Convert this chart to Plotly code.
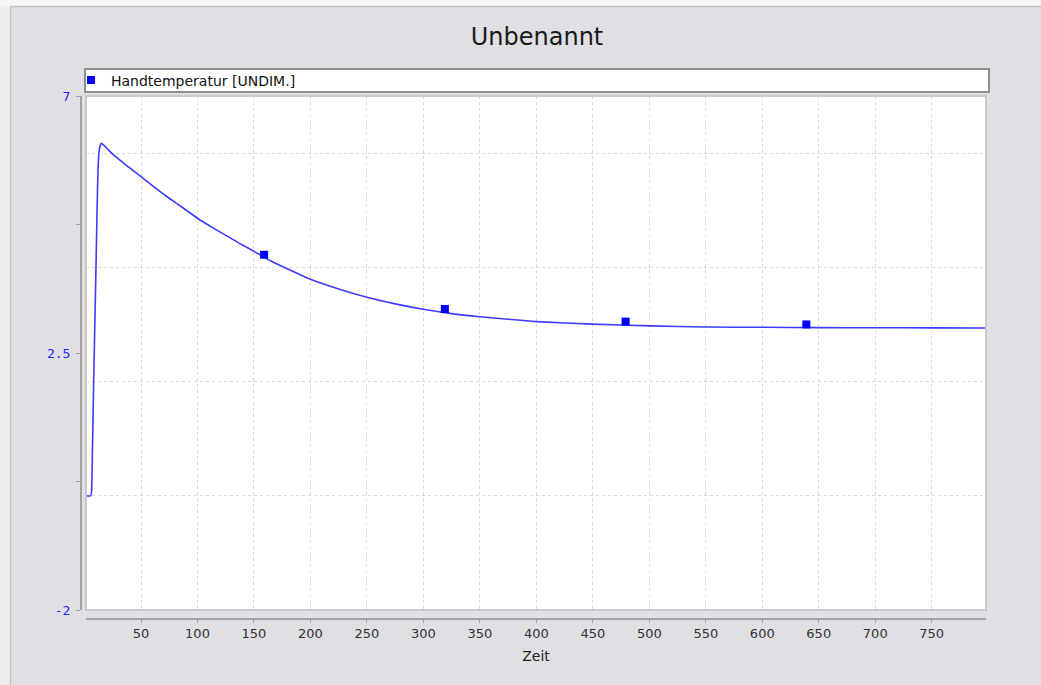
import plotly.graph_objects as go

# ---- data ----
time_curve = [1, 5.5, 6.5, 7, 8, 9, 10, 11, 12, 13, 14, 15, 17, 20, 24, 30, 40, 50, 62, 75, 88,
              100, 113, 126, 138, 150, 165, 180, 200, 225, 250, 275, 300, 325, 350, 375,
              400, 450, 500, 550, 600, 650, 700, 750, 798]
temp_curve = [0, 0, 0.25, 0.8, 1.9, 2.9, 3.85, 4.9, 5.75, 6.05, 6.14, 6.17, 6.14, 6.08, 6.0, 5.9,
              5.74, 5.59, 5.4, 5.21, 5.03, 4.86, 4.7, 4.55, 4.41, 4.28, 4.11, 3.97, 3.79,
              3.62, 3.475, 3.36, 3.265, 3.19, 3.135, 3.09, 3.05, 3.005, 2.975, 2.955, 2.95,
              2.945, 2.942, 2.94, 2.938]
time_meas = [159, 319, 479, 639]
temp_meas = [4.22, 3.27, 3.05, 3.0]

x_ticks = [50, 100, 150, 200, 250, 300, 350, 400, 450, 500, 550, 600, 650, 700, 750]
y_ticks = [-2, 0.25, 2.5, 4.75, 7]
y_ticktext = ["-2", "", "2.5", "", "7"]

W, H = 1041, 685
def px_x(p):
    return p / W
def px_y(p):
    return 1 - p / H

fig = go.Figure()
fig.add_trace(go.Scatter(x=time_curve, y=temp_curve, mode="lines",
                         line=dict(color="#3c3cff", width=1.6, shape="spline", smoothing=0.6),
                         showlegend=False, hoverinfo="skip"))
fig.add_trace(go.Scatter(x=time_meas, y=temp_meas, mode="markers",
                         marker=dict(symbol="square", size=8, color="#0000ff"),
                         name="Handtemperatur [UNDIM.]"))

grid_col = "#dadada"
axis_col = "#a2a2a2"

fig.update_layout(
    width=W, height=H,
    margin=dict(l=0, r=0, t=0, b=0),
    paper_bgcolor="#dfdfe4",
    plot_bgcolor="white",
    font=dict(family="DejaVu Sans", color="#222"),
    title=dict(text="Unbenannt", x=px_x(537), y=px_y(37), xanchor="center", yanchor="middle",
               xref="paper", yref="paper",
               font=dict(family="DejaVu Sans", size=24, color="#1a1a1a")),
    showlegend=True,
    legend=dict(x=px_x(71), y=px_y(80.5), xanchor="left", yanchor="middle",
                bgcolor="rgba(0,0,0,0)", borderwidth=0,
                font=dict(family="DejaVu Sans", size=14, color="#111")),
    xaxis=dict(domain=[px_x(86), px_x(986)], range=[1.3, 798.05], anchor="free",
               position=px_y(618.5), tickmode="array", tickvals=x_ticks,
               ticks="outside", ticklen=3, tickcolor=axis_col, tickwidth=1,
               showline=True, linecolor=axis_col, linewidth=2, zeroline=False,
               showgrid=True, gridcolor=grid_col, gridwidth=1, griddash="3px,3px",
               tickfont=dict(family="DejaVu Sans", size=13, color="#333"),
               title=dict(text="Zeit", standoff=10,
                          font=dict(family="DejaVu Sans", size=14, color="#222")),
               automargin=False),
    yaxis=dict(domain=[px_y(610), px_y(96)], range=[-2, 7], anchor="free",
               position=px_x(81), tickmode="array", tickvals=y_ticks, ticktext=y_ticktext,
               ticks="outside", ticklen=4, tickcolor=axis_col, tickwidth=1,
               showline=True, linecolor=axis_col, linewidth=2, zeroline=False,
               showgrid=False, ticklabelstandoff=3,
               minor=dict(tick0=0, dtick=2, showgrid=True, gridcolor=grid_col,
                          gridwidth=1, griddash="3px,3px", ticks=""),
               tickfont=dict(family="DejaVu Sans Mono", size=13, color="#2424ff"),
               automargin=False),
    shapes=[
        # light outer strips of the window frame
        dict(type="rect", xref="paper", yref="paper", x0=0, x1=px_x(10), y0=0, y1=1,
             fillcolor="#eeeef0", line=dict(width=0), layer="below"),
        dict(type="rect", xref="paper", yref="paper", x0=0, x1=1, y0=px_y(6), y1=1,
             fillcolor="#f6f6f7", line=dict(width=0), layer="below"),
        dict(type="line", xref="paper", yref="paper", x0=px_x(10.5), x1=px_x(10.5),
             y0=0, y1=px_y(6), line=dict(color="#c2c2c6", width=1.5), layer="below"),
        dict(type="line", xref="paper", yref="paper", x0=px_x(10), x1=1,
             y0=px_y(6.5), y1=px_y(6.5), line=dict(color="#c2c2c6", width=1.5), layer="below"),
        # legend box
        dict(type="rect", xref="paper", yref="paper", x0=px_x(85), x1=px_x(989),
             y0=px_y(92), y1=px_y(69), fillcolor="white",
             line=dict(color="#8e8e8e", width=2), layer="below"),
        # plot area border
        dict(type="rect", xref="x domain", yref="y domain", x0=0, x1=1, y0=0, y1=1,
             fillcolor="rgba(0,0,0,0)", line=dict(color="#c9c9c9", width=2), layer="above"),
    ],
)

fig.write_html("out.html")
